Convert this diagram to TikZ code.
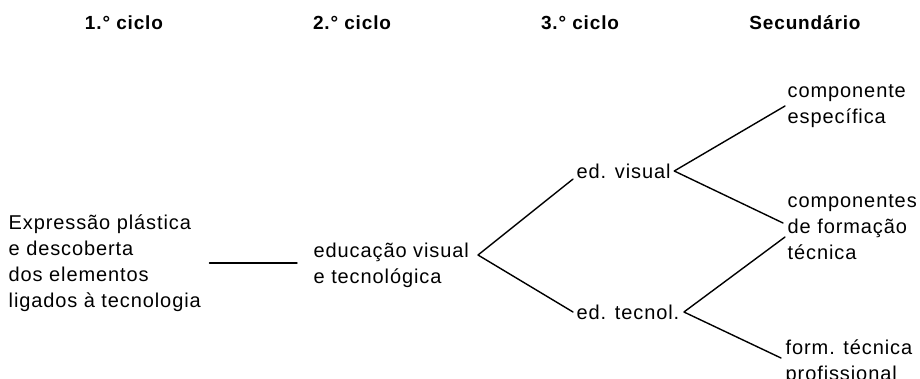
\documentclass[tikz,border=0pt]{standalone}
\usepackage{fontspec}
\setmainfont[LetterSpace=4.5]{Liberation Sans}
\begin{document}
\begin{tikzpicture}[x=1pt,y=-1pt,line width=1.4pt,line join=round,line cap=round,
	every node/.style={inner sep=0pt,font=\fontsize{20}{26}\selectfont},
	head/.style={font=\fontsize{19}{22}\selectfont\bfseries},
	txt/.style={anchor=west,align=left}]
	\useasboundingbox (0,0) rectangle (920,378);
	\node[head] (h1) at (124,23) {1.° ciclo};
	\node[head] (h2) at (352,23) {2.° ciclo};
	\node[head] (h3) at (580,23) {3.° ciclo};
	\node[head] (h4) at (805,23) {Secundário};
	\node[txt] (expr) at (8,263) {Expressão plástica\\e descoberta\\dos elementos\\ligados à tecnologia};
	\node[txt] (educ) at (313,265) {educação visual\\e tecnológica};
	\node[txt] (edv) at (576,171) {ed. visual};
	\node[txt] (edt) at (576,312) {ed. tecnol.};
	\node[txt] (c1) at (787,106) {componente\\específica};
	\node[txt] (c2) at (787,227) {componentes\\de formação\\técnica};
	\node[txt] (c3) at (785,362) {form. técnica\\profissional};
	\coordinate (v1) at (478,255);
	\coordinate (v2) at ([xshift=3pt]edv.east);
	\coordinate (v3) at ([xshift=4pt]edt.east);
	\draw ([xshift=8pt]expr.east) -- ([xshift=-16pt]expr.east -| educ.west);
	\draw ([xshift=-3pt]edv.south west) -- (v1) -- ([xshift=-3pt]edt.west);
	\draw ([xshift=-2pt]c1.west) -- (v2) -- ([xshift=-4pt,yshift=4pt]c2.west);
	\draw ([xshift=-2pt,yshift=-10pt]c2.west) -- (v3) -- ([xshift=-4pt,yshift=4pt]c3.west);
\end{tikzpicture}
\end{document}
